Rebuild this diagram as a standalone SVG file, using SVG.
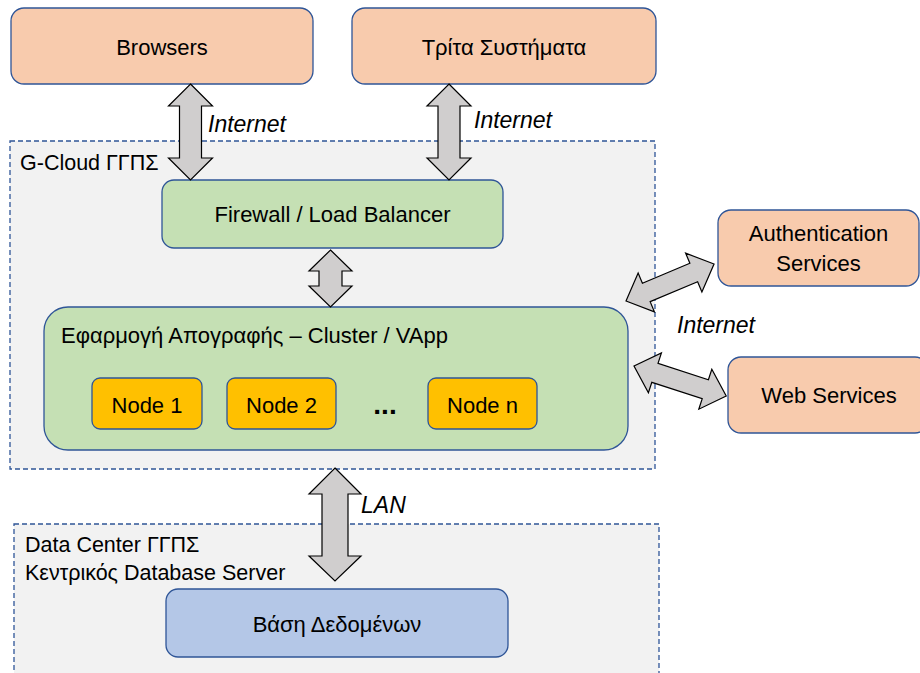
<svg xmlns="http://www.w3.org/2000/svg" width="920" height="673" viewBox="0 0 920 673">
<style>
text{font-family:"Liberation Sans",Arial,sans-serif;fill:#000;}
.t{font-size:22px;text-anchor:middle;}
.l{font-size:21.5px;}
.i{font-size:23px;font-style:italic;}
.ext{fill:#f8cbad;stroke:#2f5597;stroke-width:1.3;}
.grn{fill:#c5e0b4;stroke:#2f5597;stroke-width:1.3;}
.nd{fill:#ffc000;stroke:#2f5597;stroke-width:1.3;}
.db{fill:#b4c7e7;stroke:#2f5597;stroke-width:1.3;}
.ct{fill:#f2f2f2;stroke:#2f5597;stroke-width:1.3;stroke-dasharray:5 3;}
.ar{fill:#d0cece;stroke:#000;stroke-width:1.2;stroke-linejoin:miter;}
</style>
<rect width="920" height="673" fill="#fff"/>
<g id="gcloud">
<rect class="ct" x="10" y="141" width="645" height="328"/>
<text class="l" x="20" y="170">G-Cloud ΓΓΠΣ</text>
</g>
<g id="datacenter">
<rect class="ct" x="14" y="524" width="645" height="160"/>
<text class="l" x="25" y="552">Data Center ΓΓΠΣ</text>
<text class="l" x="25" y="580">Κεντρικός Database Server</text>
</g>
<g id="browsers">
<rect class="ext" x="11" y="8" width="302" height="76" rx="13"/>
<text class="t" x="162" y="55">Browsers</text>
</g>
<g id="third">
<rect class="ext" x="352" y="8" width="304" height="76" rx="13"/>
<text class="t" x="504" y="55">Τρίτα Συστήματα</text>
</g>
<g id="firewall">
<rect class="grn" x="162" y="180" width="341" height="68" rx="12"/>
<text class="t" x="332.5" y="222">Firewall / Load Balancer</text>
</g>
<g id="cluster">
<rect class="grn" x="44" y="307" width="584" height="143" rx="24"/>
<text x="61" y="343" style="font-size:22px">Εφαρμογή Απογραφής – Cluster / VApp</text>
</g>
<g id="node1">
<rect class="nd" x="92" y="378" width="110" height="51" rx="8"/>
<text class="t" x="147" y="413">Node 1</text>
</g>
<g id="node2">
<rect class="nd" x="227" y="378" width="109" height="51" rx="8"/>
<text class="t" x="281.5" y="413">Node 2</text>
</g>
<g id="dots">
<text x="385" y="414" style="font-size:28px;font-weight:bold;text-anchor:middle">...</text>
</g>
<g id="noden">
<rect class="nd" x="428" y="378" width="109" height="51" rx="8"/>
<text class="t" x="482.5" y="413">Node n</text>
</g>
<g id="auth">
<rect class="ext" x="718" y="210" width="201" height="76" rx="13"/>
<text class="t" x="818.5" y="241">Authentication</text>
<text class="t" x="818.5" y="271">Services</text>
</g>
<g id="web">
<rect class="ext" x="728" y="357" width="200" height="76" rx="13"/>
<text class="t" x="829" y="403">Web Services</text>
</g>
<g id="db">
<rect class="db" x="166" y="589" width="342" height="68" rx="12"/>
<text class="t" x="337" y="632">Βάση Δεδομένων</text>
</g>
<g id="connectors">
<polygon class="ar" points="190.5,84 212.5,106 201.5,106 201.5,158 212.5,158 190.5,180 168.5,158 179.5,158 179.5,106 168.5,106"/>
<polygon class="ar" points="449,84 471,106 460,106 460,158 471,158 449,180 427,158 438,158 438,106 427,106"/>
<polygon class="ar" points="330.5,250 352,271 342,271 342,286 352,286 330.5,307 309,286 319,286 319,271 309,271"/>
<polygon class="ar" points="335,468 361,494 348,494 348,556 361,556 335,581 309,556 322,556 322,494 309,494"/>
<polygon class="ar" transform="translate(626,301) rotate(-22.8)" points="0,0 22,-21 22,-10 73.5,-10 73.5,-21 95.5,0 73.5,21 73.5,10 22,10 22,21"/>
<polygon class="ar" transform="translate(634,366) rotate(18.06)" points="0,0 22,-21 22,-10 75,-10 75,-21 97,0 75,21 75,10 22,10 22,21"/>
<text class="i" x="208" y="132">Internet</text>
<text class="i" x="474" y="128">Internet</text>
<text class="i" x="677" y="333">Internet</text>
<text class="i" x="361" y="513">LAN</text>
</g>
</svg>
